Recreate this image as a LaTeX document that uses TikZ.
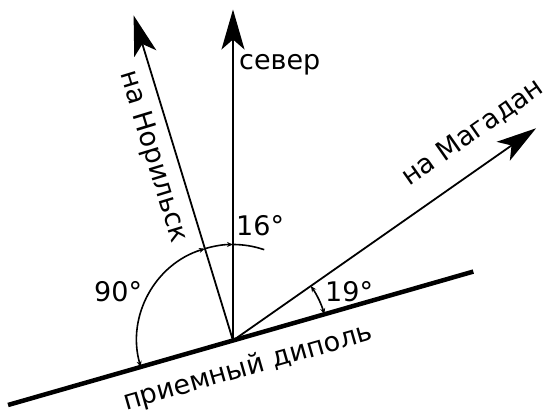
\documentclass[tikz,border=0pt]{standalone}
\usepackage{fontspec}
\setmainfont{DejaVu Sans}
\usetikzlibrary{arrows.meta,calc}
\begin{document}
\begin{tikzpicture}[x=1pt,y=1pt,
  bigarrow/.style={line width=1.8pt,-{Stealth[length=40pt,width=23pt,inset=10pt]}},
  dipole/.style={line width=4.5pt},
  arcline/.style={line width=1.6pt},
  smalltip/.tip={Stealth[length=6pt,width=5pt]},
  lbl/.style={font=\fontsize{27}{32}\selectfont, inner sep=0pt}]
\useasboundingbox (0,0) rectangle (555,411);
\coordinate (O) at (233,70.5);
\coordinate (dipL) at ($(O)+(196:234)$);
\coordinate (dipR) at ($(O)+(16:250)$);
\coordinate (N) at ($(O)+(90:331)$);
\coordinate (Nor) at ($(O)+(107:340)$);
\coordinate (Mag) at ($(O)+(35:370)$);
\draw[dipole] (dipL) -- (dipR);
\draw[bigarrow] (O) -- (N);
\draw[bigarrow] (O) -- (Nor);
\draw[bigarrow] (O) -- (Mag);
% angle arcs
\draw[arcline,{smalltip}-{smalltip}] ($(O)+(196:96)$) arc[start angle=196,end angle=107,radius=96];
\draw[arcline,-{smalltip}] ($(O)+(107:96)$) arc[start angle=107,end angle=90,radius=96];
\draw[arcline] ($(O)+(90:96)$) arc[start angle=90,end angle=71,radius=96];
\draw[arcline,{smalltip}-{smalltip}] ($(O)+(16:95)$) arc[start angle=16,end angle=35,radius=95];
% labels
\node[lbl,anchor=base west] (tN) at (239,341) {север};
\node[lbl,anchor=base west] (t16) at (236,175) {16°};
\node[lbl,anchor=base west] (t90) at (94,109) {90°};
\node[lbl,anchor=base west] (t19) at (325,109) {19°};
\node[lbl,anchor=base,rotate=16] (tD) at (250,36) {приемный диполь};
\node[lbl,anchor=base west,rotate=35] (tM) at (409,224) {на Магадан};
\node[lbl,rotate=-73] (tNor) at (153,254) {на Норильск};
\end{tikzpicture}
\end{document}
